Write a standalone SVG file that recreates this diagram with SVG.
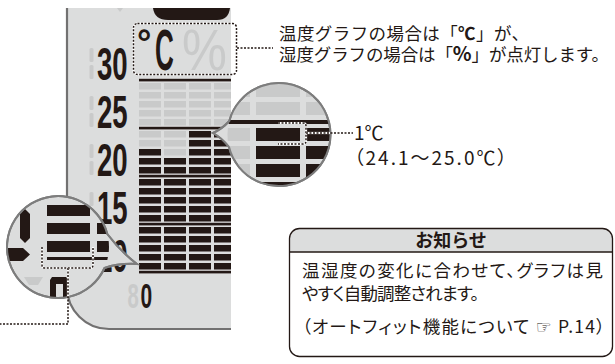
<svg xmlns="http://www.w3.org/2000/svg" width="615" height="364" viewBox="0 0 615 364">
<style>
.k{fill:#231815}
.g{fill:#c9caca}
.bg{fill:#dcdddd}
.dot{fill:none;stroke:#231815;stroke-width:1.5;stroke-dasharray:2 1.5}
.dotw{fill:none;stroke:#ffffff;stroke-width:2.2}
.lcd{font-family:'Liberation Sans',Arial,sans-serif;font-weight:bold}
.jp{font-family:'Noto Sans CJK JP',sans-serif;fill:#231815}
.palt{font-feature-settings:"palt"}
.lens{fill:#dcdddd;stroke:#7d7d7d;stroke-width:2}
.lensline{fill:none;stroke:#7d7d7d;stroke-width:2}
.ghost{fill:#c9caca}
</style>
<defs>
<pattern id="pk" width="25" height="9" patternUnits="userSpaceOnUse"><rect width="22" height="6.5" fill="#231815"/></pattern>
<pattern id="pg" width="25" height="9" patternUnits="userSpaceOnUse"><rect width="22" height="6.5" fill="#c9caca"/></pattern>
<clipPath id="c1"><circle cx="279" cy="134.5" r="51.5"/></clipPath>
<clipPath id="c2"><circle cx="58" cy="247" r="51"/></clipPath>
</defs>

<g id="panel">
<path class="bg" d="M67,8 H231 V329 H109 A42,42 0 0 1 67,287 Z"/>
<path d="M67,8 V287 A42,42 0 0 0 109,329 H231" fill="none" stroke="#727171" stroke-width="2.2"/>
<path class="k" d="M153,8 C154,16 159,20 168,20 H217 C225,20 229,16 230,8 Z"/>
<path class="ghost" d="M117,8 L120,12 L123,8 Z"/>
</g>

<g id="scale-digits">
<rect class="ghost" x="89.5" y="48" width="4" height="14" rx="1.5"/><rect class="ghost" x="89.5" y="65" width="4" height="14" rx="1.5"/>
<rect class="ghost" x="89.5" y="96" width="4" height="14" rx="1.5"/><rect class="ghost" x="89.5" y="113" width="4" height="14" rx="1.5"/>
<rect class="ghost" x="89.5" y="144" width="4" height="14" rx="1.5"/><rect class="ghost" x="89.5" y="161" width="4" height="14" rx="1.5"/>
<rect class="ghost" x="89.5" y="192" width="4" height="14" rx="1.5"/><rect class="ghost" x="89.5" y="209" width="4" height="14" rx="1.5"/>
<text class="lcd k" transform="translate(97,80) scale(0.6,1)" font-size="46">30</text>
<text class="lcd k" transform="translate(97,128) scale(0.6,1)" font-size="46">25</text>
<text class="lcd k" transform="translate(97,176) scale(0.6,1)" font-size="46">20</text>
<text class="lcd k" transform="translate(97,224) scale(0.6,1)" font-size="46">15</text>
<text class="lcd k" transform="translate(97,272) scale(0.6,1)" font-size="46">10</text>
<text class="lcd ghost" transform="translate(127.5,308) scale(0.58,1)" font-size="35">8</text>
<text class="lcd k" transform="translate(140.5,308) scale(0.6,1)" font-size="35">0</text>
</g>

<g id="graph">
<rect class="k" x="139" y="78.8" width="92" height="2.6"/>
<rect class="k" x="139" y="126.8" width="92" height="2.6"/>
<rect class="k" x="139" y="174.8" width="92" height="2.6"/>
<rect class="k" x="139" y="222.8" width="92" height="2.6"/>
<rect class="k" x="139" y="270.8" width="92" height="2.6"/>
<rect transform="translate(139,83)" width="92" height="43" fill="url(#pg)"/>
<rect transform="translate(139,131)" width="25" height="18" fill="url(#pg)"/>
<rect transform="translate(164,131)" width="25" height="27" fill="url(#pg)"/>
<rect transform="translate(139,149)" width="25" height="25" fill="url(#pk)"/>
<rect transform="translate(164,158)" width="25" height="16" fill="url(#pk)"/>
<rect transform="translate(189,131)" width="42" height="43" fill="url(#pk)"/>
<rect transform="translate(139,179)" width="92" height="43" fill="url(#pk)"/>
<rect transform="translate(139,227)" width="92" height="43" fill="url(#pk)"/>
</g>

<g id="unit-display">
<rect x="133.5" y="23.5" width="103" height="51" rx="4" class="dotw"/>
<rect x="133.5" y="23.5" width="103" height="51" rx="4" class="dot"/>
<text class="lcd k" x="137" y="55" font-size="36">°</text>
<text class="lcd k" transform="translate(155,70) scale(0.45,1)" font-size="58">C</text>
<text class="ghost" transform="translate(182,70) scale(0.87,1)" font-size="58" font-family="'Liberation Sans', Arial, sans-serif">%</text>
</g>

<g id="magnifier-1c">
<path class="lens" d="M229.3,121 A51.5,51.5 0 1 1 229,147 Q222,138 213,133 Q222,129 229.3,121 Z"/>
<g clip-path="url(#c1)">
<rect class="g" x="206" y="84" width="44" height="13"/><rect class="g" x="256" y="84" width="44" height="13"/><rect class="g" x="306" y="84" width="44" height="13"/>
<rect class="g" x="206" y="102" width="44" height="13"/><rect class="g" x="256" y="102" width="44" height="13"/><rect class="g" x="306" y="102" width="44" height="13"/>
<rect class="k" x="200" y="120" width="140" height="4"/>
<rect class="g" x="206" y="128" width="44" height="13"/><rect class="k" x="256" y="128" width="44" height="13"/><rect class="k" x="306" y="128" width="44" height="13"/>
<rect class="g" x="206" y="146" width="44" height="13"/><rect class="k" x="256" y="146" width="44" height="13"/><rect class="k" x="306" y="146" width="44" height="13"/>
<rect class="g" x="206" y="164" width="44" height="13"/><rect class="k" x="256" y="164" width="44" height="13"/><rect class="k" x="306" y="164" width="44" height="13"/>
<rect class="k" x="206" y="182" width="144" height="13"/>
<path class="dotw" d="M278,123 H303 Q306,123 306,126 V141 Q306,144 303,144 H278"/>
<path class="dot" d="M278,123 H303 Q306,123 306,126 V141 Q306,144 303,144 H278"/>
</g>
<path class="lensline" d="M229.3,121 A51.5,51.5 0 1 1 229,147 Q222,138 213,133 Q222,129 229.3,121 Z"/>
</g>

<g id="magnifier-bar">
<path class="lens" d="M107.3,234 Q120,251 137,264 Q119,263 104.5,268 A51,51 0 1 1 107.3,234 Z"/>
<g clip-path="url(#c2)">
<rect class="k" x="47" y="205" width="43" height="11"/>
<rect class="k" x="47" y="223" width="43" height="11"/>
<rect class="k" x="47" y="241" width="43" height="11"/>
<rect class="k" x="97" y="223" width="30" height="11"/>
<rect class="k" x="97" y="241" width="30" height="11"/>
<rect class="k" x="47" y="257" width="70" height="3"/>
<path class="k" d="M20,214 L25,209 L30,214 V238 L25,243 L20,238 Z"/>
<path class="k" d="M2,248 H23 L30,254.5 L23,261 H2 Z"/>
<path class="ghost" d="M24,277 H43 L38,285 H29 Z"/>
<path class="k" d="M52,277 H66 L69,280 V300 H63 V284 H56 V300 H50 V280 Z"/>
<path class="dotw" d="M42,247 V265 Q42,268 45,268 H90 Q93,268 93,265 V247"/>
<path class="dot" d="M42,247 V265 Q42,268 45,268 H90 Q93,268 93,265 V247"/>
</g>
<path class="lensline" d="M107.3,234 Q120,251 137,264 Q119,263 104.5,268 A51,51 0 1 1 107.3,234 Z"/>
</g>

<g id="connectors">
<path class="dot" d="M237,48 H273"/>
<path class="dotw" d="M306,133 H330"/>
<path class="dot" d="M306,133 H353"/>
<path class="dotw" d="M68,268 V297"/>
<path class="dot" d="M68,268 V324 H0"/>
</g>

<g id="label-unit">
<text class="jp" x="279" y="39.5" font-size="17.5" textLength="250" lengthAdjust="spacing">温度グラフの場合は「<tspan font-weight="bold">℃</tspan>」が、</text>
<text class="jp" x="279" y="61" font-size="17.5" textLength="330" lengthAdjust="spacing">湿度グラフの場合は「<tspan font-weight="bold" font-size="19.5">%</tspan>」が点灯します。</text>
</g>

<g id="label-step">
<text class="jp palt" x="354" y="140" font-size="19">1℃</text>
<text class="jp palt" x="354" y="165" font-size="19" textLength="153" lengthAdjust="spacing">（24.1～25.0℃）</text>
</g>

<g id="info-box">
<path d="M289.5,252 V238.5 Q289.5,228.5 299.5,228.5 H602.5 Q612.5,228.5 612.5,238.5 V252 Z" fill="#dcdddd"/>
<rect x="289.5" y="228.5" width="323" height="128" rx="10" fill="none" stroke="#231815" stroke-width="1.3"/>
<line x1="289.5" y1="252" x2="612.5" y2="252" stroke="#231815" stroke-width="1.3"/>
<text class="jp" x="451" y="247" font-size="18" font-weight="bold" text-anchor="middle">お知らせ</text>
<text class="jp palt" x="302" y="277" font-size="17.5" textLength="301" lengthAdjust="spacing">温湿度の変化に合わせて、グラフは見</text>
<text class="jp palt" x="302" y="300" font-size="17.5" textLength="177" lengthAdjust="spacing">やすく自動調整されます。</text>
<text class="jp palt" x="302" y="333" font-size="17.5" textLength="303" lengthAdjust="spacing">（オートフィット機能について <tspan font-family="'DejaVu Sans', sans-serif">☞</tspan> P.14）</text>
</g>
</svg>
